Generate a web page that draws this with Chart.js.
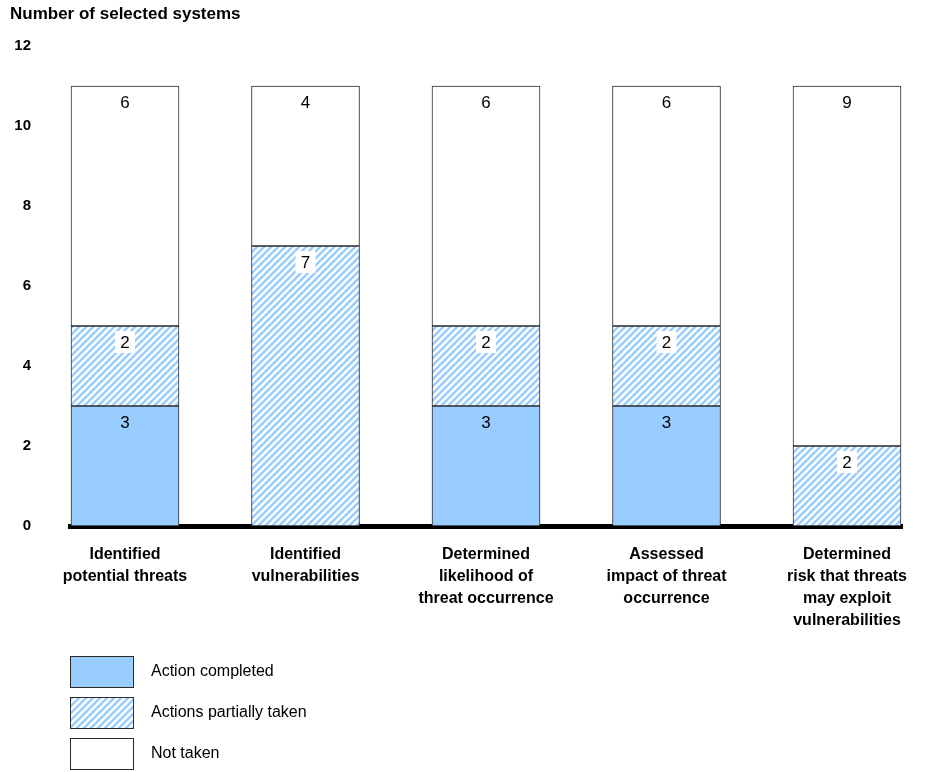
<!doctype html>
<meta charset="utf-8">
<style>
    body { margin: 0; background: #fff; }
    #wrap { width: 930px; height: 772px; }
</style>
<script src="https://cdn.jsdelivr.net/npm/chart.js@4.4.8/dist/chart.umd.min.js"></script>

<div id="wrap"><canvas id="chart"></canvas></div>

<script>
    const categories = [
        ["Identified", "potential threats"],
        ["Identified", "vulnerabilities"],
        ["Determined", "likelihood of", "threat occurrence"],
        ["Assessed", "impact of threat", "occurrence"],
        ["Determined", "risk that threats", "may exploit", "vulnerabilities"]
    ];
    const completed = [3, 0, 3, 3, 0];
    const partial = [2, 7, 2, 2, 2];
    const notTaken = [6, 4, 6, 6, 9];
    const yTicks = [0, 2, 4, 6, 8, 10, 12];

    const BLUE = "#99ccff";
    const EDGE = "#2b2b2b";

    // diagonal hatch for "partially taken"
    function hatch() {
        const c = document.createElement("canvas");
        c.width = 7;
        c.height = 7;
        const g = c.getContext("2d");
        g.fillStyle = "#fff";
        g.fillRect(0, 0, 7, 7);
        g.strokeStyle = BLUE;
        g.lineWidth = 2.5;
        g.beginPath();
        g.moveTo(-1, 8); g.lineTo(8, -1);
        g.moveTo(-4, 4); g.lineTo(4, -4);
        g.moveTo(3, 11); g.lineTo(11, 3);
        g.stroke();
        return g.createPattern(c, "repeat");
    }
    const hatchFill = hatch();

    const toPoints = arr => arr.map((v, i) => ({x: i, y: v}));

    const valueLabels = {
        id: "valueLabels",
        afterDatasetsDraw(chart) {
            const ctx = chart.ctx;
            ctx.save();
            ctx.font = "17px Arial, 'Liberation Sans', sans-serif";
            ctx.textAlign = "center";
            ctx.textBaseline = "middle";
            chart.data.datasets.forEach((ds, di) => {
                chart.getDatasetMeta(di).data.forEach((el, i) => {
                    const v = ds.data[i].y;
                    if (!v) return;
                    const y = el.y + 16;
                    if (di === 1) {
                        ctx.fillStyle = "#fff";
                        ctx.fillRect(el.x - 10, y - 11, 20, 22);
                    }
                    ctx.fillStyle = "#000";
                    ctx.fillText(String(v), el.x, y + 1);
                });
            });
            ctx.restore();
        }
    };

    const boxLegend = {
        id: "boxLegend",
        afterDraw(chart) {
            const ctx = chart.ctx;
            const left = chart.chartArea.left;
            ctx.save();
            ctx.font = "16px Arial, 'Liberation Sans', sans-serif";
            ctx.textBaseline = "middle";
            chart.data.datasets.forEach((ds, i) => {
                const top = 656 + i * 41;
                ctx.fillStyle = ds.backgroundColor;
                ctx.fillRect(left, top, 64, 32);
                ctx.strokeStyle = EDGE;
                ctx.lineWidth = 1;
                ctx.strokeRect(left + 0.5, top + 0.5, 63, 31);
                ctx.fillStyle = "#000";
                ctx.fillText(ds.label, left + 81, top + 16);
            });
            ctx.restore();
        }
    };

    new Chart(document.getElementById("chart"), {
        type: "bar",
        data: {
            datasets: [{
                label: "Action completed",
                data: toPoints(completed),
                backgroundColor: BLUE
            }, {
                label: "Actions partially taken",
                data: toPoints(partial),
                backgroundColor: hatchFill
            }, {
                label: "Not taken",
                data: toPoints(notTaken),
                backgroundColor: "#ffffff"
            }]
        },
        options: {
            responsive: true,
            maintainAspectRatio: false,
            animation: false,
            datasets: {
                bar: {
                    barThickness: 108,
                    borderColor: EDGE,
                    borderWidth: 1,
                    borderSkipped: false
                }
            },
            layout: {
                padding: {left: 10, right: 28, top: 4, bottom: 116}
            },
            scales: {
                x: {
                    type: "linear",
                    stacked: true,
                    offset: false,
                    min: -0.3047,
                    max: 4.3047,
                    z: 1,
                    grid: {display: false},
                    border: {display: true, color: "#000", width: 5},
                    afterBuildTicks(scale) {
                        scale.ticks = categories.map((c, i) => ({value: i}));
                    },
                    afterFit(scale) {
                        scale.height = 130;
                    },
                    ticks: {
                        autoSkip: false,
                        maxRotation: 0,
                        padding: 10,
                        color: "#000",
                        font: {family: "Arial, 'Liberation Sans', sans-serif", size: 16, weight: "bold", lineHeight: 1.375},
                        callback: v => categories[v]
                    }
                },
                y: {
                    stacked: true,
                    min: 0,
                    max: 12,
                    grid: {display: false, drawTicks: false},
                    border: {display: false},
                    afterBuildTicks(scale) {
                        scale.ticks = yTicks.map(v => ({value: v}));
                    },
                    afterFit(scale) {
                        scale.width = 60;
                        scale.paddingTop = 0;
                        scale.paddingBottom = 0;
                    },
                    ticks: {
                        padding: 39,
                        color: "#000",
                        font: {family: "Arial, 'Liberation Sans', sans-serif", size: 15, weight: "bold"}
                    }
                }
            },
            plugins: {
                legend: {display: false},
                tooltip: {enabled: false},
                title: {
                    display: true,
                    text: "Number of selected systems",
                    align: "start",
                    color: "#000",
                    font: {family: "Arial, 'Liberation Sans', sans-serif", size: 17, weight: "bold"},
                    padding: {top: 0, bottom: 21.6}
                }
            }
        },
        plugins: [valueLabels, boxLegend]
    });
</script>
